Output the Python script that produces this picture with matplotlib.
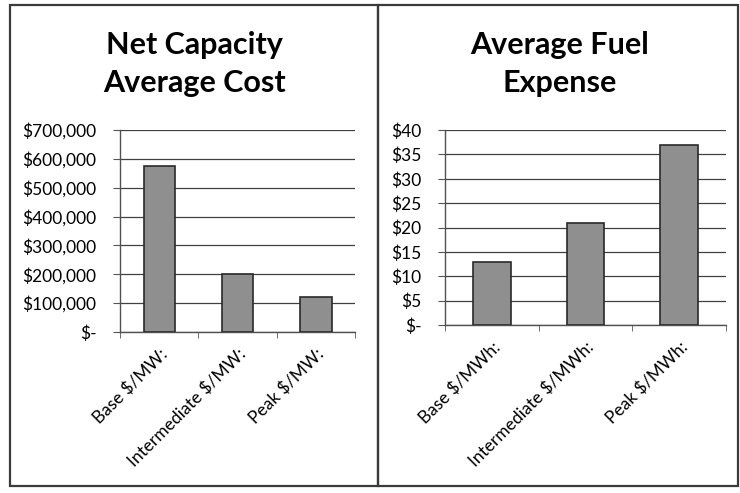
import matplotlib.pyplot as plt
from matplotlib.patches import Rectangle
from matplotlib.ticker import FuncFormatter

plt.rcParams['font.family'] = ['Lato', 'DejaVu Sans']

# capacity cost per MW and fuel cost per MWh by load type
cap_labels = ["Base $/MW:", "Intermediate $/MW:", "Peak $/MW:"]
cap_values = [575000, 200000, 120000]
fuel_labels = ["Base $/MWh:", "Intermediate $/MWh:", "Peak $/MWh:"]
fuel_values = [13, 21, 37]

cap_ticks = [0, 100000, 200000, 300000, 400000, 500000, 600000, 700000]
fuel_ticks = [0, 5, 10, 15, 20, 25, 30, 35, 40]


def dollars(v, pos):
    if v == 0:
        return "$-"
    return "${:,.0f}".format(v)


fig = plt.figure(figsize=(7.4, 4.93), dpi=100)

# panel frames
W, H = 740.0, 493.0
for x0, x1 in [(10, 378), (378, 738)]:
    fig.add_artist(Rectangle((x0 / W, 1 - 486 / H), (x1 - x0) / W, (486 - 5) / H,
                             transform=fig.transFigure, fill=False,
                             edgecolor='#3a3a3a', linewidth=1.6))

fig.text(194 / W, 1 - 64 / H, "Net Capacity\nAverage Cost", ha='center', va='center',
         fontsize=22, fontweight='bold', linespacing=1.45)
fig.text(560 / W, 1 - 64 / H, "Average Fuel\nExpense", ha='center', va='center',
         fontsize=22, fontweight='bold', linespacing=1.45)

ax1 = fig.add_axes([120 / W, 1 - 332 / H, 235 / W, 202 / H])
ax2 = fig.add_axes([445 / W, 1 - 325 / H, 281 / W, 195 / H])

for ax, labels, values, ticks in [(ax1, cap_labels, cap_values, cap_ticks),
                                  (ax2, fuel_labels, fuel_values, fuel_ticks)]:
    pos = list(range(len(values)))
    ax.bar(pos, values, width=0.4, color='#8f8f8f', edgecolor='#2a2a2a',
           linewidth=1.2, zorder=3)
    ax.set_xlim(-0.5, len(values) - 0.5)
    ax.set_ylim(ticks[0], ticks[-1])
    ax.set_yticks(ticks)
    ax.yaxis.set_major_formatter(FuncFormatter(dollars))
    ax.yaxis.grid(True, color='#404040', linewidth=0.9, zorder=0)
    ax.set_xticks(pos)
    ax.set_xticklabels(labels, rotation=45, ha='right', rotation_mode='anchor')
    ax.set_xticks([p - 0.5 for p in pos] + [len(pos) - 0.5], minor=True)
    ax.tick_params(axis='x', which='major', length=0, pad=10, labelsize=12.5)
    ax.tick_params(axis='x', which='minor', length=4, color='#555555')
    ax.tick_params(axis='y', length=5, color='#555555', labelsize=12.5, pad=12)
    for s in ['top', 'right']:
        ax.spines[s].set_visible(False)
    for s in ['left', 'bottom']:
        ax.spines[s].set_color('#505050')
        ax.spines[s].set_linewidth(1.0)

fig.savefig('out.png', dpi=100)
